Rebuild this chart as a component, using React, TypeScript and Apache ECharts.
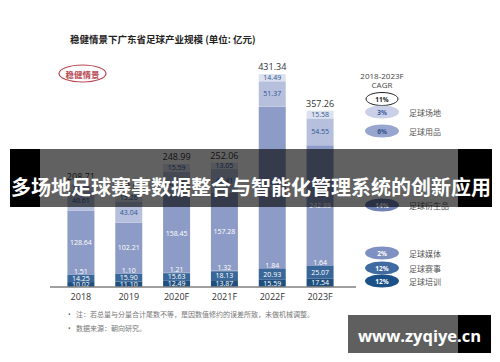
import React, { useEffect, useRef } from "react";
import * as echarts from "echarts";

const categories = ["2018", "2019", "2020F", "2021F", "2022F", "2023F"];
const training = [10.02, 11.1, 12.49, 13.87, 15.59, 17.54];
const events = [14.25, 15.9, 15.63, 18.13, 20.93, 25.07];
const media = [1.51, 1.1, 1.21, 1.32, 1.84, 1.64];
const derivatives = [128.64, 102.21, 158.45, 157.28, 327.12, 242.88];
const goods = [40.61, 43.04, 45.62, 48.41, 51.37, 54.55];
const venues = [13.68, 15.26, 15.59, 13.05, 14.49, 15.58];
const totals = [208.71, 188.61, 248.99, 252.06, 431.34, 357.26];

const title = "稳健情景下广东省足球产业规模 (单位: 亿元)";
const scenario = "稳健情景";
const banner = "多场地足球赛事数据整合与智能化管理系统的创新应用";
const cagrHeader = ["2018-2023F", "CAGR"];
const cagrTotal = "11%";
const cagrNames = ["足球场地", "足球用品", "足球衍生品", "足球媒体", "足球赛事", "足球培训"];
const cagrRates = ["3%", "6%", "14%", "2%", "12%", "12%"];
const notes = [
  "注：若总量与分量合计尾数不等，是因数值修约的误差所致，未做机械调整。",
  "数据来源：朝向研究。",
];
const siteMark = "www.zyqiye.cn";

const FONT = "'Open Sans', 'Noto Sans CJK SC', sans-serif";
const CJK = "'Noto Sans CJK SC', sans-serif";

const legendY = [112, 131, 205, 253, 268, 281];
const legendFill = ["#c9d0e8", "#98a6cf", "#7081b3", "#7f91c2", "#3f6ba2", "#1b5186"];
const legendText = ["#3b5a9a", "#2f4f8a", "#ffffff", "#ffffff", "#ffffff", "#ffffff"];

function seg(name: string, data: number[], color: string, labelColor: string, offset: number[] = [0, 0]) {
  return {
    name,
    type: "bar",
    stack: "total",
    data,
    barWidth: 27,
    z: 3,
    itemStyle: { color },
    label: {
      show: true,
      position: "inside",
      fontSize: 7,
      fontFamily: FONT,
      color: labelColor,
      offset,
      formatter: (p: any) => p.value.toFixed(2),
    },
  };
}

export default function App() {
  const ref = useRef<HTMLDivElement>(null);
  useEffect(() => {
    if (!ref.current) return;
    const chart = echarts.init(ref.current, undefined, { renderer: "svg" });
    const graphics: any[] = [];
    graphics.push({
      type: "text",
      x: 70,
      y: 39,
      style: { text: title, fontSize: 9.5, fontWeight: "bold", fill: "#222", fontFamily: CJK, textVerticalAlign: "middle" },
    });
    graphics.push({
      type: "ellipse",
      shape: { cx: 82.5, cy: 73.5, rx: 23.5, ry: 8.5 },
      style: { fill: "#fff", stroke: "#b84a55", lineWidth: 1.2 },
    });
    graphics.push({
      type: "text",
      x: 82.5,
      y: 73.5,
      style: { text: scenario, fontSize: 8.5, fontWeight: "bold", fill: "#b84a55", fontFamily: CJK, textAlign: "center", textVerticalAlign: "middle" },
    });
    graphics.push({
      type: "line",
      shape: { x1: 50, y1: 287, x2: 356, y2: 287 },
      style: { stroke: "#808080", lineWidth: 1.5 },
      z: 5,
    });
    cagrHeader.forEach((t, i) => {
      graphics.push({
        type: "text",
        x: 382,
        y: 75 + i * 9,
        style: { text: t, fontSize: 8, fill: "#444", fontFamily: FONT, textAlign: "center", textVerticalAlign: "middle" },
      });
    });
    graphics.push({
      type: "ellipse",
      shape: { cx: 382, cy: 99, rx: 16, ry: 6.5 },
      style: { fill: "#fff", stroke: "#222", lineWidth: 1 },
    });
    graphics.push({
      type: "text",
      x: 382,
      y: 99,
      style: { text: cagrTotal, fontSize: 6.5, fontWeight: "bold", fill: "#222", fontFamily: FONT, textAlign: "center", textVerticalAlign: "middle" },
    });
    cagrNames.forEach((n, i) => {
      graphics.push({
        type: "ellipse",
        shape: { cx: 382, cy: legendY[i], rx: 17, ry: 6.5 },
        style: { fill: legendFill[i] },
      });
      graphics.push({
        type: "text",
        x: 382,
        y: legendY[i],
        style: { text: cagrRates[i], fontSize: 6.5, fontWeight: "bold", fill: legendText[i], fontFamily: FONT, textAlign: "center", textVerticalAlign: "middle" },
      });
      graphics.push({
        type: "text",
        x: 409,
        y: legendY[i],
        style: { text: n, fontSize: 8, fill: "#555", fontFamily: CJK, textVerticalAlign: "middle" },
      });
    });
    notes.forEach((t, i) => {
      graphics.push({
        type: "text",
        x: 68,
        y: 314 + i * 14,
        style: { text: "•", fontSize: 7, fill: "#666", fontFamily: FONT, textVerticalAlign: "middle" },
      });
      graphics.push({
        type: "text",
        x: 76,
        y: 314 + i * 14,
        style: { text: t, fontSize: 7, fill: "#777", fontFamily: CJK, textVerticalAlign: "middle" },
      });
    });
    // banner
    graphics.push({ type: "rect", shape: { x: 40, y: 149, width: 418, height: 58 }, style: { fill: "rgba(0,0,0,0.62)" }, z: 100 });
    graphics.push({ type: "rect", shape: { x: 10, y: 149, width: 30, height: 58 }, style: { fill: "#000" }, z: 100 });
    graphics.push({ type: "rect", shape: { x: 458, y: 149, width: 34, height: 58 }, style: { fill: "#000" }, z: 100 });
    graphics.push({
      type: "text",
      x: 251,
      y: 186,
      z: 101,
      style: { text: banner, fontSize: 20, fontWeight: "bold", fill: "#fff", fontFamily: CJK, textAlign: "center", textVerticalAlign: "middle" },
    });
    // site watermark
    graphics.push({ type: "rect", shape: { x: 348, y: 315, width: 110, height: 38 }, style: { fill: "#5f5f5f" }, z: 100 });
    graphics.push({ type: "rect", shape: { x: 458, y: 315, width: 33, height: 38 }, style: { fill: "#000" }, z: 100 });
    graphics.push({
      type: "text",
      x: 358,
      y: 335,
      z: 101,
      style: { text: siteMark, fontSize: 16.5, fontWeight: "bold", fill: "#fff", fontFamily: "'Open Sans', sans-serif", textVerticalAlign: "middle" },
    });

    chart.setOption({
      animation: false,
      backgroundColor: "#ffffff",
      textStyle: { fontFamily: FONT },
      grid: { left: 57, right: 156, top: 60, bottom: 75 },
      xAxis: {
        type: "category",
        data: categories,
        axisLine: { show: false },
        axisTick: { show: false },
        axisLabel: { fontSize: 9, color: "#333", margin: 5, fontFamily: FONT },
      },
      yAxis: { type: "value", min: 0, max: 460, show: false },
      series: [
        seg("足球培训", training, "#1f4f7f", "#ffffff"),
        seg("足球赛事", events, "#3a6799", "#ffffff"),
        seg("足球媒体", media, "#7389b8", "#ffffff", [0, -3]),
        seg("足球衍生品", derivatives, "#8d9cc6", "#ffffff"),
        seg("足球用品", goods, "#b6c0dc", "#2f5597"),
        seg("足球场地", venues, "#dce1ee", "#2f5597"),
        {
          name: "合计",
          type: "bar",
          data: totals,
          barWidth: 27,
          barGap: "-100%",
          z: 1,
          itemStyle: { color: "rgba(0,0,0,0)" },
          label: {
            show: true,
            position: "top",
            distance: 3,
            fontSize: 9,
            color: "#333",
            fontFamily: FONT,
            formatter: (p: any) => p.value.toFixed(2),
          },
        },
      ],
      graphic: graphics,
    });
    return () => chart.dispose();
  }, []);
  return <div ref={ref} style={{ position: "fixed", left: 0, top: 0, width: 500, height: 362 }} />;
}
